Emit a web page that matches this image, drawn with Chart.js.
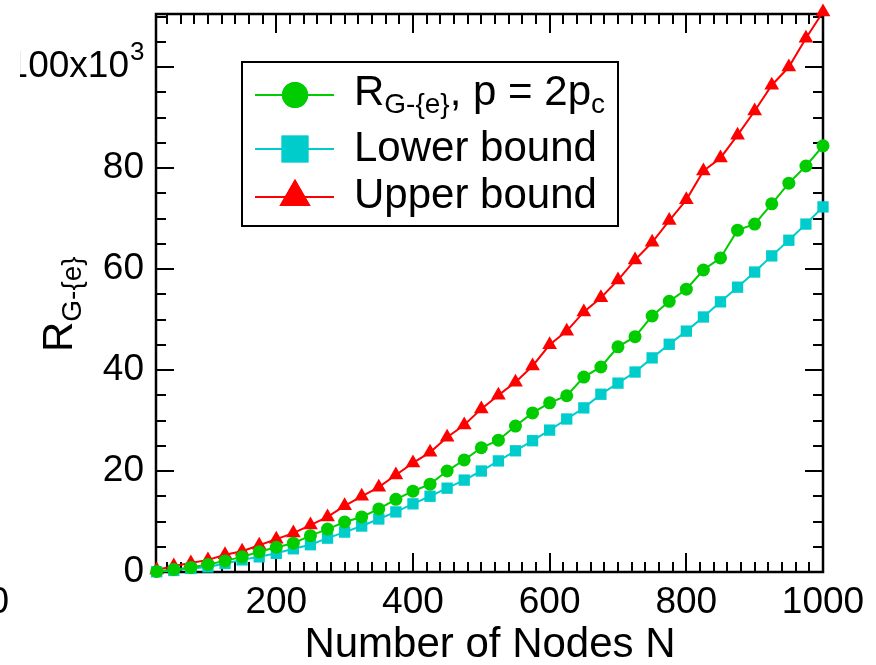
<!DOCTYPE html>
<html>
<head>
<meta charset="utf-8">
<script src="https://cdn.jsdelivr.net/npm/chart.js@4"></script>
<style>
  body { margin: 0; background: #fff; }
  canvas { display: block; }
</style>
</head>
<body>
<canvas id="chart" width="876" height="665"></canvas>
<script>
// number of nodes N
const nodes = [25, 50, 75, 100, 125, 150, 175, 200, 225, 250, 275, 300, 325, 350, 375, 400, 425, 450, 475, 500,
    525, 550, 575, 600, 625, 650, 675, 700, 725, 750, 775, 800, 825, 850, 875, 900, 925, 950, 975, 1000];

// values in units of 10^3
const rgeValues = [0.1, 0.5, 0.9, 1.5, 2.2, 3.0, 4.0, 4.9, 5.7, 7.2, 8.5, 9.9, 10.9, 12.5, 14.4, 16.0, 17.4, 20.0, 22.2, 24.6,
    26.1, 28.9, 31.5, 33.5, 34.9, 38.6, 40.6, 44.6, 46.6, 50.7, 53.6, 56.0, 59.8, 62.2, 67.7, 68.9, 72.9, 77.0, 80.4, 84.4];
const lowerBound = [0.05, 0.3, 0.7, 1.0, 1.7, 2.4, 3.0, 3.7, 4.6, 5.4, 6.7, 7.9, 9.1, 10.5, 11.9, 13.5, 15.0, 16.6, 18.2, 20.0,
    22.0, 24.0, 26.0, 28.1, 30.3, 32.5, 35.2, 37.4, 39.6, 42.4, 45.1, 47.7, 50.5, 53.5, 56.4, 59.4, 62.6, 65.7, 68.9, 72.3];
const upperBound = [0.4, 1.2, 1.8, 2.4, 3.4, 4.1, 5.3, 6.5, 7.7, 9.3, 10.9, 13.1, 15.0, 16.8, 19.2, 21.6, 23.7, 26.7, 29.1, 32.3,
    35.0, 37.6, 40.8, 45.0, 47.7, 51.5, 54.3, 57.8, 61.8, 65.3, 69.6, 73.7, 79.4, 82.0, 86.5, 91.3, 96.4, 100.0, 105.7, 110.9];

const xTickLabels = [200, 400, 600, 800, 1000];
const yTickLabels = [0, 20, 40, 60, 80];

const GREEN = "#00cc00";
const CYAN = "#00cccc";
const RED = "#ff0000";
const FONT = "'Liberation Sans', Arial, sans-serif";

function pts(ys) {
    return nodes.map((n, i) => ({ x: n, y: ys[i] }));
}

// inward ticks on all four sides, labels and titles
const axesPlugin = {
    id: "axes",
    beforeDatasetsDraw(chart) {
        const ctx = chart.ctx;
        const a = chart.chartArea;
        const xs = chart.scales.x, ys = chart.scales.y;
        ctx.save();
        ctx.strokeStyle = "#000";
        ctx.lineWidth = 2.5;
        ctx.strokeRect(a.left, a.top, a.right - a.left, a.bottom - a.top);
        ctx.lineWidth = 2;
        ctx.beginPath();
        for (let v = 40; v <= 1000; v += 20) {
            const px = Math.round(xs.getPixelForValue(v));
            const len = v % 200 === 0 ? 19 : 10;
            ctx.moveTo(px, a.bottom); ctx.lineTo(px, a.bottom - len);
            ctx.moveTo(px, a.top); ctx.lineTo(px, a.top + len);
        }
        for (let v = 5; v <= 110; v += 5) {
            const py = Math.round(ys.getPixelForValue(v));
            const len = v % 20 === 0 ? 18 : 10;
            ctx.moveTo(a.left, py); ctx.lineTo(a.left + len, py);
            ctx.moveTo(a.right, py); ctx.lineTo(a.right - len, py);
        }
        ctx.stroke();

        ctx.fillStyle = "#000";
        ctx.font = "37px " + FONT;
        ctx.textAlign = "center";
        ctx.textBaseline = "middle";
        xTickLabels.forEach(v => ctx.fillText(String(v), xs.getPixelForValue(v), 603));
        ctx.textAlign = "right";
        yTickLabels.forEach(v => ctx.fillText(String(v), 144, ys.getPixelForValue(v)));

        // 100x10^3 label, cut on the left as in the figure
        const y100 = ys.getPixelForValue(100);
        ctx.save();
        ctx.beginPath();
        ctx.rect(20, 0, 200, 665);
        ctx.clip();
        ctx.fillText("100x10", 129, y100);
        ctx.restore();
        ctx.font = "26px " + FONT;
        ctx.textAlign = "left";
        ctx.fillText("3", 130, y100 - 14);

        // stray 0 at the left edge
        ctx.font = "37px " + FONT;
        ctx.textAlign = "right";
        ctx.fillText("0", 9, 603);

        // x title
        ctx.font = "42px " + FONT;
        ctx.textAlign = "center";
        ctx.textBaseline = "alphabetic";
        ctx.fillText("Number of Nodes N", 490, 657);

        // y title R_{G-{e}}
        ctx.translate(72, 352);
        ctx.rotate(-Math.PI / 2);
        ctx.textAlign = "left";
        ctx.font = "42px " + FONT;
        ctx.fillText("R", 0, 0);
        const w = ctx.measureText("R").width;
        ctx.font = "28px " + FONT;
        ctx.fillText("G-{e}", w, 9);
        ctx.restore();
    },
    afterDraw(chart) {
        const ctx = chart.ctx;
        ctx.save();
        ctx.fillStyle = "#fff";
        ctx.fillRect(242, 62, 376, 164);
        ctx.strokeStyle = "#000";
        ctx.lineWidth = 2;
        ctx.strokeRect(242, 62, 376, 164);

        const rows = [
            { color: GREEN, style: "circle", r: 13, y: 95 },
            { color: CYAN, style: "rect", r: 19, y: 149 },
            { color: RED, style: "triangle", r: 18, y: 197 }
        ];
        rows.forEach(row => {
            ctx.strokeStyle = row.color;
            ctx.lineWidth = 2;
            ctx.beginPath();
            ctx.moveTo(255, row.y); ctx.lineTo(334, row.y);
            ctx.stroke();
            ctx.fillStyle = row.color;
            Chart.helpers.drawPoint(ctx, { pointStyle: row.style, radius: row.r, borderWidth: 0 }, 295, row.y);
            ctx.fill();
        });

        ctx.fillStyle = "#000";
        ctx.textBaseline = "middle";
        ctx.textAlign = "left";
        const big = "42px " + FONT, small = "28px " + FONT;
        let x = 354;
        ctx.font = big;
        ctx.fillText("R", x, 93);
        x += ctx.measureText("R").width;
        ctx.font = small;
        ctx.fillText("G-{e}", x, 105);
        x += ctx.measureText("G-{e}").width;
        ctx.font = big;
        ctx.fillText(", p = 2p", x, 93);
        x += ctx.measureText(", p = 2p").width;
        ctx.font = small;
        ctx.fillText("c", x, 105);
        ctx.font = big;
        ctx.fillText("Lower bound", 354, 149);
        ctx.fillText("Upper bound", 354, 196);
        ctx.restore();
    }
};

new Chart(document.getElementById("chart"), {
    type: "line",
    data: {
        datasets: [
            {
                label: "R_G-{e}, p = 2p_c",
                data: pts(rgeValues),
                borderColor: GREEN,
                backgroundColor: GREEN,
                pointStyle: "circle",
                pointRadius: 6.5
            },
            {
                label: "Lower bound",
                data: pts(lowerBound),
                borderColor: CYAN,
                backgroundColor: CYAN,
                pointStyle: "rect",
                pointRadius: 8
            },
            {
                label: "Upper bound",
                data: pts(upperBound),
                borderColor: RED,
                backgroundColor: RED,
                pointStyle: "triangle",
                pointRadius: 8.5
            }
        ].map(d => Object.assign(d, { borderWidth: 2, pointBorderWidth: 0, tension: 0, clip: false }))
    },
    options: {
        responsive: false,
        animation: false,
        devicePixelRatio: 1,
        layout: { padding: { left: 156, right: 53, top: 14, bottom: 93 } },
        plugins: { legend: { display: false }, tooltip: { enabled: false } },
        scales: {
            x: { type: "linear", min: 24, max: 1000, display: false },
            y: { type: "linear", min: 0, max: 110.5, display: false }
        }
    },
    plugins: [axesPlugin]
});
</script>
</body>
</html>
